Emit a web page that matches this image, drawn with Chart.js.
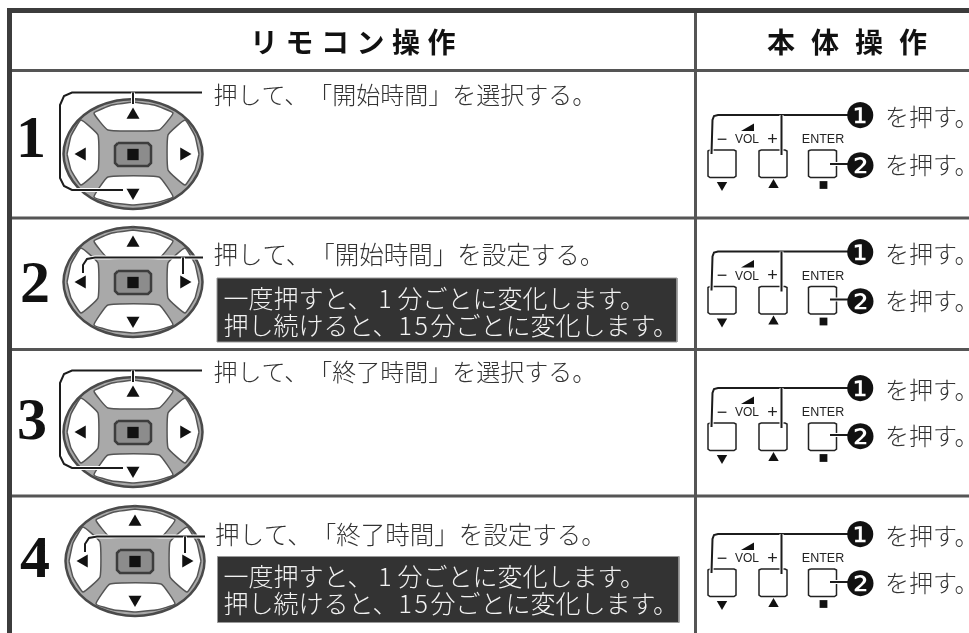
<!DOCTYPE html>
<html lang="ja">
<head>
<meta charset="utf-8">
<style>
  html, body { margin: 0; padding: 0; background: #fff; }
  canvas { display: block; text-spacing-trim: space-all; }
</style>
<script src="https://cdn.jsdelivr.net/npm/chart.js@4"></script>
</head>
<body>
<canvas id="panel-chart" width="969" height="633"></canvas>
<script>
// text
const headerLabels = ['リモコン操作', '本体操作'];
const rowNumbers = ['1', '2', '3', '4'];
const rowActions = [
    '押して、「開始時間」を選択する。',
    '押して、「開始時間」を設定する。',
    '押して、「終了時間」を選択する。',
    '押して、「終了時間」を設定する。'
];
const noteLines = ['一度押すと、1分ごとに変化します。', '押し続けると、15分ごとに変化します。'];
const pressMarks = ['❶', '❷'];
const pressLabel = 'を押す。';
const volLabels = ['−', 'VOL', '+'];
const enterLabel = 'ENTER';

// where things sit, in the hidden axes' units
const rowLinesY = [70.5, 218, 349.5, 496];
const dpadX = [133, 133, 133, 135];
const dpadY = [154, 282, 432, 561];
const numberX = [31, 35, 32, 35];
const numberY = [141, 286, 423, 561];
const actionX = [213.5, 213.5, 213.5, 215];
const actionY = [95, 255, 372, 535];
const actionSize = [24, 24.5, 24, 24.5];
const rightY = [115, 251.5, 388, 534];
const rightGap = [49, 48, 47, 48];

// outlines relative to the centre of a d-pad
const ellipsePts = [[0,-55],[18,-53],[35,-47.5],[49,-39],[60,-27.5],[67,-14],[69.5,0],[67,14],[60,27.5],[49,39],[35,47.5],[18,53],[0,55],[-18,53],[-35,47.5],[-49,39],[-60,27.5],[-67,14],[-69.5,0],[-67,-14],[-60,-27.5],[-49,-39],[-35,-47.5],[-18,-53],[0,-55]];
const topKey = [[0,-52],[21,-49],[40,-41],[26,-24],[-25,-24],[-39,-41],[-21,-49],[0,-52]];
const bottomKey = [[0,51],[21,49],[40,43],[26,23],[-25,23],[-39,43],[-21,49],[0,51]];
const leftKey = [[-66,0],[-62,-18],[-52,-34],[-35,-19],[-35,16],[-52,31],[-62,16],[-66,0]];
const rightKey = [[66,0],[62,-18],[52,-34],[35,-19],[35,16],[52,31],[62,16],[66,0]];
const centreKey = [[-15,-11],[15,-11],[18,-8],[18,9],[15,12],[-15,12],[-18,9],[-18,-8],[-15,-11]];
const selectLead = [[69,-61.5],[-61,-61.5],[-69,-58],[-73,-49],[-73,24],[-69,32],[-61,36],[-10,36]];
const selectTick = [[0,-61.5],[0,-50]];
const setLead = [[70,-24.5],[-38,-24.5],[-46,-23],[-50,-17],[-50,-9]];
const setTick = [[50,-24.5],[50,-8]];

// outlines relative to the first press line of a right hand row
const pressLead = [[178,0],[38,0],[34,1],[32.5,5],[31.5,39]];
const pressTick = [[101.5,0],[101.5,40]];
const volWedge = [[61,16],[74,16],[74,8.5],[61,16]];
const sideKeyX = [28, 79, 128.5];
const sideKey = [[2,35],[26,35],[28,36],[28,61],[26,62.5],[2,62.5],[0,61],[0,36],[2,35]];
const noteBoxes = [[217, 278, 460, 64], [217.5, 556.5, 461.5, 66]];
const noteTextY = [[298, 325], [576, 603]];

const frame = '#3c3c3c';
const datasets = [];

function outline(points, ox, oy, style) {
    datasets.push(Object.assign({
        showLine: true,
        pointRadius: 0,
        borderColor: '#222',
        borderWidth: 2,
        fill: false,
        data: points.map(p => ({ x: p[0] + ox, y: p[1] + oy }))
    }, style));
}

function marker(x, y, pointStyle, rotation, radius) {
    datasets.push({
        showLine: false,
        pointStyle: pointStyle,
        rotation: rotation,
        pointRadius: radius,
        pointBackgroundColor: '#111',
        pointBorderWidth: 0,
        data: [{ x: x, y: y }]
    });
}

function leader(points, ox, oy) {
    outline(points, ox, oy, { borderColor: '#fff', borderWidth: 4 });
    outline(points, ox, oy, { borderColor: '#1c1c1c', borderWidth: 2 });
}

function addDpad(i) {
    const x = dpadX[i], y = dpadY[i];
    outline(ellipsePts, x, y, { borderColor: '#4a4a4a', borderWidth: 2.5, backgroundColor: '#a9a9a9', fill: 'shape', tension: 0.3 });
    [topKey, bottomKey, leftKey, rightKey].forEach(key => {
        outline(key, x, y, { borderColor: '#555', borderWidth: 1.5, backgroundColor: '#fff', fill: 'shape', tension: 0.12 });
    });
    outline(centreKey, x, y, { borderColor: '#3d3d3d', borderWidth: 2.5, backgroundColor: '#8c8c8c', fill: 'shape' });
    marker(x, y + 0.5, 'rect', 0, 8);
    marker(x, y - 39, 'triangle', 0, 7.5);
    marker(x, y + 38.5, 'triangle', 180, 7.5);
    marker(x - 51, y, 'triangle', 270, 7.5);
    marker(x + 51, y, 'triangle', 90, 7.5);
    if (i % 2 === 0) {
        leader(selectLead, x, y);
        leader(selectTick, x, y);
    } else {
        leader(setLead, x, y);
        leader(setTick, x, y);
    }
}

function addRightRow(y, i) {
    const x = 680;
    sideKeyX.forEach(kx => {
        outline(sideKey, x + kx, y, { borderColor: '#222', borderWidth: 1.5 });
    });
    leader(pressLead, x, y);
    leader(pressTick, x, y);
    leader([[150, rightGap[i]], [171, rightGap[i]]], x, y);
    outline(volWedge, x, y, { borderWidth: 0, backgroundColor: '#111', fill: 'shape' });
    marker(722, y + 70, 'triangle', 180, 6);
    marker(773.5, y + 70, 'triangle', 0, 6);
    marker(823.5, y + 70, 'rect', 0, 5.5);
}

function addNoteBox(box) {
    const w = box[2], h = box[3];
    outline([[0,0],[w,0],[w,h],[0,h],[0,0]], box[0], box[1], { borderColor: '#999', borderWidth: 1, backgroundColor: '#333', fill: 'shape' });
}

// frame and rules
rowLinesY.forEach(y => outline([[7, y], [969, y]], 0, 0, { borderColor: '#555', borderWidth: 3 }));
outline([[695.5, 8], [695.5, 633]], 0, 0, { borderColor: '#555', borderWidth: 3 });
outline([[7, 10.5], [969, 10.5]], 0, 0, { borderColor: frame, borderWidth: 5 });
outline([[9.5, 8], [9.5, 633]], 0, 0, { borderColor: frame, borderWidth: 5 });

rowNumbers.forEach((_, i) => addDpad(i));
rightY.forEach(addRightRow);
noteBoxes.forEach(addNoteBox);

datasets.forEach((d, i) => { d.order = datasets.length - i; });

const textItems = [];
function label(text, x, y, font, color, align, spacing) {
    textItems.push({ text, x, y, font, color: color || '#333', align: align || 'left', spacing: spacing || 0 });
}

const jp = '"Noto Sans CJK JP"';
label(headerLabels[0], 250, 42.5, '700 28px ' + jp, '#111', 'left', '7.5px');
label(headerLabels[1], 767, 42.5, '700 28px ' + jp, '#111', 'left', '16px');
rowNumbers.forEach((n, i) => {
    label(n, numberX[i], numberY[i], 'bold 60px "Liberation Serif"', '#111', 'center');
    label(rowActions[i], actionX[i], actionY[i], '300 ' + actionSize[i] + 'px ' + jp);
});
rightY.forEach((y, i) => {
    const gap = rightGap[i];
    label(pressMarks[0], 860.5, y + 4, '35px "DejaVu Sans"', '#111', 'center');
    label(pressMarks[1], 860.5, y + gap + 5, '35px "DejaVu Sans"', '#111', 'center');
    label(pressLabel, 885, y + 2, '300 24px ' + jp);
    label(pressLabel, 885, y + gap + 1, '300 24px ' + jp);
    label(volLabels[0], 722, y + 25, '18px "Liberation Sans"', '#222', 'center');
    label(volLabels[1], 747, y + 25, '12px "Liberation Sans"', '#222', 'center');
    label(volLabels[2], 772.5, y + 25, '18px "Liberation Sans"', '#222', 'center');
    label(enterLabel, 823, y + 25, '12.5px "Liberation Sans"', '#222', 'center');
});

// the digits in the notes are set wider than the font's own
function drawNoteLine(ctx, text, x, y) {
    let cursor = x;
    text.split(/(\d+)/).forEach(run => {
        if (/^\d$/.test(run)) {
            ctx.letterSpacing = '0px';
            ctx.fillText(run, cursor + (25 - ctx.measureText(run).width) / 2, y);
            cursor += 25;
        } else if (/^\d+$/.test(run)) {
            ctx.letterSpacing = '2.6px';
            ctx.fillText(run, cursor + 1, y);
            cursor += 33;
        } else {
            ctx.letterSpacing = '0px';
            ctx.fillText(run, cursor, y);
            cursor += ctx.measureText(run).width;
        }
    });
}

const textPlugin = {
    id: 'panelText',
    afterDatasetsDraw(chart) {
        const { ctx, scales } = chart;
        ctx.save();
        ctx.textBaseline = 'middle';
        textItems.forEach(t => {
            ctx.font = t.font;
            ctx.fillStyle = t.color;
            ctx.textAlign = t.align;
            ctx.letterSpacing = t.spacing ? t.spacing : '0px';
            ctx.fillText(t.text, scales.x.getPixelForValue(t.x), scales.y.getPixelForValue(t.y));
        });
        ctx.font = '300 25px ' + jp;
        ctx.fillStyle = '#f2f2f2';
        ctx.textAlign = 'left';
        noteTextY.forEach(ys => {
            noteLines.forEach((line, i) => {
                drawNoteLine(ctx, line, scales.x.getPixelForValue(223.5), scales.y.getPixelForValue(ys[i]));
            });
        });
        ctx.restore();
    }
};

new Chart(document.getElementById('panel-chart'), {
    type: 'scatter',
    data: { datasets: datasets },
    plugins: [textPlugin],
    options: {
        responsive: false,
        animation: false,
        events: [],
        layout: { padding: 0, autoPadding: false },
        plugins: { legend: { display: false }, tooltip: { enabled: false } },
        scales: {
            x: { type: 'linear', min: 0, max: 969, display: false },
            y: { type: 'linear', min: 0, max: 633, reverse: true, display: false }
        }
    }
});
</script>
</body>
</html>
